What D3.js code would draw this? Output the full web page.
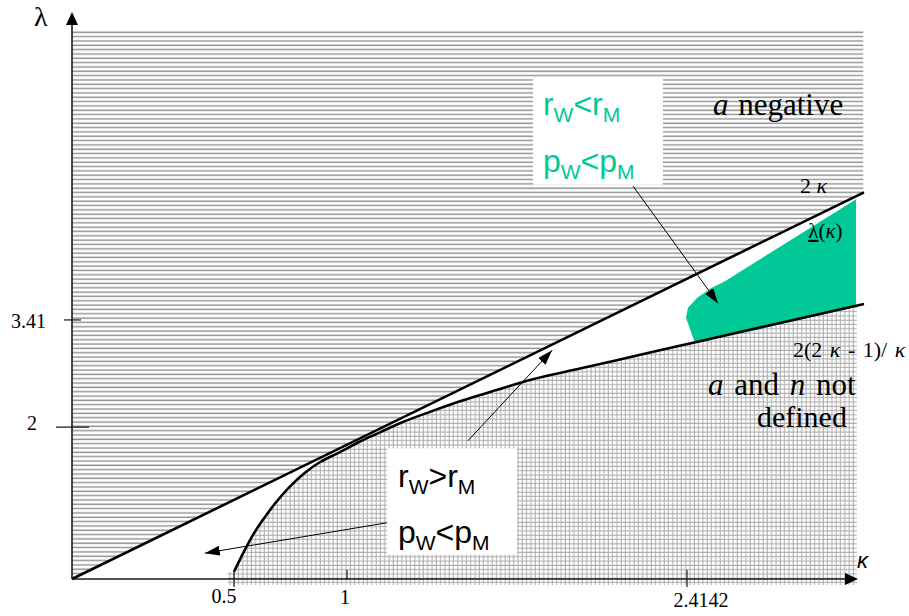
<!DOCTYPE html>
<html>
<head>
<meta charset="utf-8">
<script src="https://cdn.jsdelivr.net/npm/d3@7"></script>
<style>
  body { margin: 0; background: #fff; }
  svg { display: block; }
</style>
</head>
<body>
<svg id="chart"></svg>
<script>
// ---- data (kappa, lambda) ----
const kappaTicks = [0.5, 1, 2.4142];
const kappaTickLabels = ["0.5", "1", "2.4142"];
const lambdaTicks = [2, 3.41];
const lambdaTickLabels = ["2", "3.41"];

// upper boundary, 2κ
const upperKappa = [0, 3.15];
const upperLambda = [0, 5.09];

// lower boundary, 2(2κ-1)/κ
const lowerKappa = [0.5, 0.544, 0.588, 0.633, 0.686, 0.748, 0.814, 0.881, 0.969, 1.054, 1.137,
  1.22, 1.345, 1.47, 1.636, 1.761, 1.969, 2.26, 2.468, 2.676, 2.884, 3.15];
const lowerLambda = [0.095, 0.36, 0.60, 0.80, 1.01, 1.22, 1.40, 1.54, 1.67, 1.81, 1.93,
  2.05, 2.20, 2.34, 2.50, 2.62, 2.77, 2.98, 3.13, 3.28, 3.43, 3.62];

// shaded λ(κ) region
const greenKappa = [2.447, 2.41, 2.418, 2.456, 2.51, 2.572, 3.117, 3.117, 2.884, 2.676, 2.468];
const greenLambda = [3.11, 3.44, 3.57, 3.70, 3.82, 3.92, 5.00, 3.58, 3.42, 3.26, 3.12];

// hatched regions
const hatchTop = 7.22;
const hatchRight = 3.147;
const gridRight = 3.12;
const gridLeft = 0.48;
const gridBottom = -0.08;

// arrows [fromK, fromL, toK, toL]
const arrows = [
  [2.19, 5.17, 2.543, 3.63],
  [1.503, 1.82, 1.853, 3.01],
  [1.166, 0.74, 0.41, 0.34]
];

// label boxes [k0, l0, k1, l1]
const boxes = [
  [1.774, 6.59, 2.314, 5.19],
  [1.166, 1.72, 1.707, 0.32]
];

// ---- layout ----
const width = 909;
const height = 616;
const green = "#00c896";

const svg = d3.select("#chart")
  .attr("width", width)
  .attr("height", height);

// schematic axes: piecewise linear in kappa
const x = d3.scaleLinear()
  .domain([0, 0.5, 1, 2.4142, 3.15])
  .range([72, 234, 347, 687, 864]);
const y = d3.scaleLinear()
  .domain([0, 7.2])
  .range([579, 32]);

const pts = (ks, ls) => ks.map((k, i) => [x(k), y(ls[i])]);

// patterns
const defs = svg.append("defs");
const hp = defs.append("pattern")
  .attr("id", "hlines")
  .attr("patternUnits", "userSpaceOnUse")
  .attr("width", 8).attr("height", 4.33);
hp.append("rect").attr("width", 8).attr("height", 4.33).attr("fill", "#fff");
hp.append("line")
  .attr("x1", 0).attr("x2", 8).attr("y1", 2).attr("y2", 2)
  .attr("stroke", "#969696").attr("stroke-width", 1.5);

const gp = defs.append("pattern")
  .attr("id", "grid")
  .attr("patternUnits", "userSpaceOnUse")
  .attr("width", 4.3).attr("height", 4.3);
gp.append("rect").attr("width", 4.3).attr("height", 4.3).attr("fill", "#fff");
gp.append("path")
  .attr("d", "M0,2 H4.3 M2,0 V4.3")
  .attr("stroke", "#acacac").attr("stroke-width", 1);

defs.append("marker")
  .attr("id", "arrow")
  .attr("markerUnits", "userSpaceOnUse")
  .attr("markerWidth", 15).attr("markerHeight", 10)
  .attr("refX", 15).attr("refY", 5)
  .attr("orient", "auto")
  .append("path").attr("d", "M0,0 L15,5 L0,10 Z").attr("fill", "#000");

const poly = d3.line().curve(d3.curveLinearClosed);
const curve = d3.line().curve(d3.curveMonotoneX);

// horizontal hatch: above 2κ
const upperEnd = upperLambda[1] * hatchRight / upperKappa[1];
svg.append("path")
  .attr("d", poly([
    [x(0), y(hatchTop)], [x(hatchRight), y(hatchTop)],
    [x(hatchRight), y(upperEnd)], [x(0), y(0)]
  ]))
  .attr("fill", "url(#hlines)");

// grid hatch: below the lower curve
const lowerPts = pts(lowerKappa, lowerLambda).filter((p, i) => lowerKappa[i] <= gridRight);
svg.append("path")
  .attr("d", poly(lowerPts.concat([
    [x(gridRight), y(3.58)], [x(gridRight), y(gridBottom)],
    [x(gridLeft), y(gridBottom)], [x(gridLeft), y(lowerLambda[0])]
  ])))
  .attr("fill", "url(#grid)");

// green region
svg.append("path")
  .attr("d", poly(pts(greenKappa, greenLambda)))
  .attr("fill", green);

// white label boxes
svg.selectAll("rect.box")
  .data(boxes)
  .join("rect")
  .attr("class", "box")
  .attr("x", d => x(d[0]))
  .attr("y", d => y(d[1]))
  .attr("width", d => x(d[2]) - x(d[0]))
  .attr("height", d => y(d[3]) - y(d[1]))
  .attr("fill", "#fff");

// boundary curves
svg.append("path")
  .attr("d", d3.line()(pts(upperKappa, upperLambda)))
  .attr("fill", "none").attr("stroke", "#000").attr("stroke-width", 2.6);
svg.append("path")
  .attr("d", curve(pts(lowerKappa, lowerLambda)))
  .attr("fill", "none").attr("stroke", "#000").attr("stroke-width", 2.6);

// axes
const axis = svg.append("g").attr("stroke", "#1a1a1a").attr("stroke-width", 1.6);
axis.append("line").attr("x1", x(0)).attr("y1", y(0)).attr("x2", 850).attr("y2", y(0));
axis.append("line").attr("x1", x(0)).attr("y1", y(0)).attr("x2", x(0)).attr("y2", 20);
svg.append("path").attr("d", `M858,${y(0)} L845,${y(0) - 6} L845,${y(0) + 6} Z`).attr("fill", "#000");
svg.append("path").attr("d", `M${x(0)},12 L${x(0) - 6},25 L${x(0) + 6},25 Z`).attr("fill", "#000");

// kappa ticks
const kTickTop = [570, 570, 570];
const kTickBottom = [587, 580, 587];
const kLabelDx = [-10, -2, 14];
const kLabelY = [603, 604, 607];
kappaTicks.forEach((k, i) => {
  svg.append("line")
    .attr("x1", x(k)).attr("x2", x(k))
    .attr("y1", kTickTop[i]).attr("y2", kTickBottom[i])
    .attr("stroke", "#1a1a1a").attr("stroke-width", 1.2);
  svg.append("text")
    .attr("x", x(k) + kLabelDx[i]).attr("y", kLabelY[i])
    .attr("text-anchor", "middle")
    .attr("font-family", "Liberation Serif, Times New Roman, serif")
    .attr("font-size", 20)
    .text(kappaTickLabels[i]);
});

// lambda ticks
const lTickX = [[56, 89], [64, 81]];
const lLabelX = [37, 46];
const lLabelDy = [3, 8];
lambdaTicks.forEach((l, i) => {
  svg.append("line")
    .attr("x1", lTickX[i][0]).attr("x2", lTickX[i][1])
    .attr("y1", y(l)).attr("y2", y(l))
    .attr("stroke", "#1a1a1a").attr("stroke-width", 1.2);
  svg.append("text")
    .attr("x", lLabelX[i]).attr("y", y(l) + lLabelDy[i])
    .attr("text-anchor", "end")
    .attr("font-family", "Liberation Serif, Times New Roman, serif")
    .attr("font-size", 20)
    .text(lambdaTickLabels[i]);
});

// axis titles
svg.append("text")
  .attr("x", 34).attr("y", 26)
  .attr("font-family", "Liberation Serif, Times New Roman, serif")
  .attr("font-size", 28)
  .text("λ");
svg.append("text")
  .attr("x", 857).attr("y", 568)
  .attr("font-family", "Liberation Sans, Arial, sans-serif")
  .attr("font-style", "italic")
  .attr("font-size", 22)
  .text("κ");

// arrows
svg.selectAll("line.arrow")
  .data(arrows)
  .join("line")
  .attr("class", "arrow")
  .attr("x1", d => x(d[0])).attr("y1", d => y(d[1]))
  .attr("x2", d => x(d[2])).attr("y2", d => y(d[3]))
  .attr("stroke", "#000").attr("stroke-width", 1)
  .attr("marker-end", "url(#arrow)");

// rich text helper
function rich(px, py, parts, opts) {
  const t = svg.append("text")
    .attr("x", px).attr("y", py)
    .attr("font-family", opts.family)
    .attr("font-size", opts.size)
    .attr("word-spacing", opts.ws || 0)
    .attr("fill", opts.fill || "#000");
  let shift = 0;
  parts.forEach(p => {
    const s = t.append("tspan").text(p.t);
    const want = p.sub ? opts.subDy : 0;
    if (want !== shift) { s.attr("dy", want - shift); shift = want; }
    if (p.sub) s.attr("font-size", opts.subSize);
    if (p.it) s.attr("font-style", "italic");
    if (p.u) s.attr("text-decoration", "underline");
  });
  return t;
}

const sans = { family: "Liberation Sans, Arial, sans-serif", size: 32, subSize: 21, subDy: 7 };
const serif = { family: "Liberation Serif, Times New Roman, serif" };

// box labels
rich(x(1.815), y(6.11), [{ t: "r" }, { t: "W", sub: true }, { t: "<" }, { t: "r" }, { t: "M", sub: true }], { ...sans, fill: green });
rich(x(1.815), y(5.36), [{ t: "p" }, { t: "W", sub: true }, { t: "<" }, { t: "p" }, { t: "M", sub: true }], { ...sans, fill: green });
rich(x(1.212), y(1.21), [{ t: "r" }, { t: "W", sub: true }, { t: ">" }, { t: "r" }, { t: "M", sub: true }], sans);
rich(x(1.212), y(0.47), [{ t: "p" }, { t: "W", sub: true }, { t: "<" }, { t: "p" }, { t: "M", sub: true }], sans);

// region labels
rich(x(2.522), y(6.11), [{ t: "a", it: true }, { t: " negative" }], { ...serif, size: 31, ws: 2 });
rich(x(2.501), y(2.42), [{ t: "a", it: true }, { t: " and " }, { t: "n", it: true }, { t: " not" }], { ...serif, size: 31, ws: 3 });
rich(x(2.705), y(2.0), [{ t: "defined" }], { ...serif, size: 30 });

// curve labels
rich(x(2.884), y(5.08), [{ t: "2 " }, { t: "κ", it: true }], { ...serif, size: 22 });
rich(x(2.918), y(4.49), [{ t: "λ", u: true }, { t: "(" }, { t: "κ", it: true }, { t: ")" }], { ...serif, size: 21 });
rich(x(2.855), y(2.92), [{ t: "2(2 " }, { t: "κ", it: true }, { t: " - 1)/ " }, { t: "κ", it: true }], { ...serif, size: 22, ws: 2 });
</script>
</body>
</html>
